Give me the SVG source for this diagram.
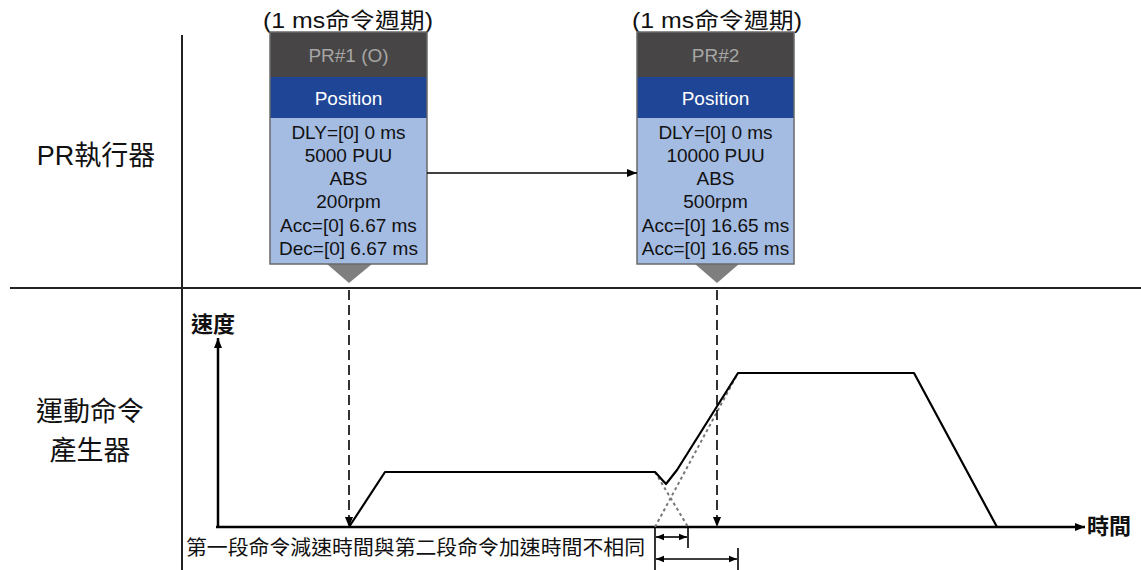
<svg xmlns="http://www.w3.org/2000/svg" width="1141" height="570" viewBox="0 0 1141 570">
<defs>
<style>
text{font-family:"Liberation Sans","Noto Sans CJK TC",sans-serif;fill:#111}
.lbl{font-size:27px;text-anchor:middle}
.title{font-size:22px;text-anchor:middle}
.bt{font-size:19px;text-anchor:middle}
.hdr{font-size:19px;text-anchor:middle;fill:#a6a6a6}
.pos{font-size:19px;text-anchor:middle;fill:#fff}
.ax{font-size:22px;font-weight:bold}
.frame{stroke:#222;stroke-width:2;fill:none}
.axis{stroke:#000;stroke-width:2.5;fill:none}
.prof{stroke:#000;stroke-width:2.2;fill:none;stroke-linejoin:round}
.dot{stroke:#777;stroke-width:2;stroke-dasharray:3 3;fill:none}
.dash{stroke:#000;stroke-width:1.6;stroke-dasharray:10 5;fill:none}
.dim{stroke:#000;stroke-width:1.6;fill:none}
</style>
<marker id="ah" viewBox="0 0 10 10" refX="10" refY="5" markerWidth="10" markerHeight="10" markerUnits="userSpaceOnUse" orient="auto-start-reverse">
<path d="M0,1 L10,5 L0,9 Z" fill="#000"/>
</marker>
<marker id="ahs" viewBox="0 0 10 10" refX="10" refY="5" markerWidth="8" markerHeight="8" markerUnits="userSpaceOnUse" orient="auto-start-reverse">
<path d="M0,1 L10,5 L0,9 Z" fill="#000"/>
</marker>
</defs>
<rect width="1141" height="570" fill="#fff"/>

<g id="frame">
<line class="frame" x1="182" y1="35" x2="182" y2="570"/>
<line class="frame" x1="10" y1="288" x2="1141" y2="288"/>
<text class="lbl" x="96" y="165">PR執行器</text>
<text class="lbl" x="90" y="421">運動命令</text>
<text class="lbl" x="90" y="460">產生器</text>
</g>

<g id="pr1">
<text class="title" x="348" y="28" textLength="170" lengthAdjust="spacingAndGlyphs">(1 ms命令週期)</text>
<path d="M327,264 L372,264 L349,283 Z" fill="#7f7f7f"/>
<rect x="270" y="32" width="157" height="45" fill="#474545"/>
<rect x="270" y="77" width="157" height="41" fill="#1f4597"/>
<rect x="270" y="118" width="157" height="146" fill="#a4bbe2"/>
<rect x="270" y="32" width="157" height="232" fill="none" stroke="#6a6a6a" stroke-width="1.5"/>
<text class="hdr" x="348.5" y="62">PR#1 (O)</text>
<text class="pos" x="348.5" y="105">Position</text>
<text class="bt" x="348.5" y="139">DLY=[0] 0 ms</text>
<text class="bt" x="348.5" y="162">5000 PUU</text>
<text class="bt" x="348.5" y="185">ABS</text>
<text class="bt" x="348.5" y="208">200rpm</text>
<text class="bt" x="348.5" y="232">Acc=[0] 6.67 ms</text>
<text class="bt" x="348.5" y="255">Dec=[0] 6.67 ms</text>
</g>

<g id="pr2">
<text class="title" x="717" y="28" textLength="170" lengthAdjust="spacingAndGlyphs">(1 ms命令週期)</text>
<path d="M695,264 L739,264 L717,283 Z" fill="#7f7f7f"/>
<rect x="637" y="32" width="157" height="45" fill="#474545"/>
<rect x="637" y="77" width="157" height="41" fill="#1f4597"/>
<rect x="637" y="118" width="157" height="146" fill="#a4bbe2"/>
<rect x="637" y="32" width="157" height="232" fill="none" stroke="#6a6a6a" stroke-width="1.5"/>
<text class="hdr" x="715.5" y="62">PR#2</text>
<text class="pos" x="715.5" y="105">Position</text>
<text class="bt" x="715.5" y="139">DLY=[0] 0 ms</text>
<text class="bt" x="715.5" y="162">10000 PUU</text>
<text class="bt" x="715.5" y="185">ABS</text>
<text class="bt" x="715.5" y="208">500rpm</text>
<text class="bt" x="715.5" y="232">Acc=[0] 16.65 ms</text>
<text class="bt" x="715.5" y="255">Acc=[0] 16.65 ms</text>
</g>

<g id="chart">
<line class="axis" x1="218" y1="527" x2="218" y2="338" marker-end="url(#ah)"/>
<line class="axis" x1="216" y1="527" x2="1085" y2="527" marker-end="url(#ah)"/>
<text class="ax" x="191" y="332">速度</text>
<text class="ax" x="1087" y="534">時間</text>
<path class="dot" d="M655,472 L688,527"/>
<path class="dot" d="M655,527 L738,373"/>
<path class="prof" d="M349,527 L385,472 L655,472 L666,484 L677,470 L738,373 L914,373 L997,527"/>
<text x="186" y="555" font-size="20" textLength="459" lengthAdjust="spacingAndGlyphs">第一段命令減速時間與第二段命令加速時間不相同</text>
</g>

<g id="connectors">
<line class="dim" x1="427" y1="173" x2="637" y2="173" stroke-width="2" marker-end="url(#ah)"/>
<line class="dash" x1="349" y1="290" x2="349" y2="527" marker-end="url(#ah)"/>
<line class="dash" x1="717" y1="290" x2="717" y2="527" marker-end="url(#ah)"/>
<line class="dim" x1="655" y1="527" x2="655" y2="570"/>
<line class="dim" x1="688" y1="527" x2="688" y2="548"/>
<line class="dim" x1="738" y1="548" x2="738" y2="570"/>
<line class="dim" x1="656" y1="537" x2="687" y2="537" marker-start="url(#ahs)" marker-end="url(#ahs)"/>
<line class="dim" x1="656" y1="559" x2="737" y2="559" marker-start="url(#ahs)" marker-end="url(#ahs)"/>
</g>
</svg>
